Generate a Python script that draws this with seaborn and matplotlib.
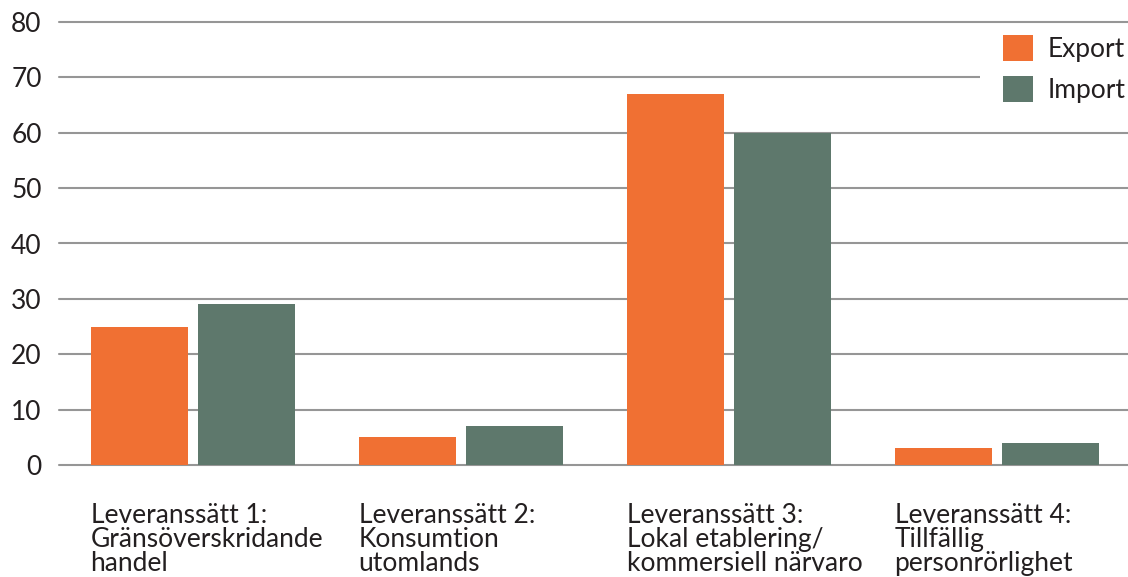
import matplotlib
matplotlib.use("Agg")
import matplotlib.pyplot as plt
from matplotlib.patches import Rectangle
from matplotlib.transforms import blended_transform_factory
import pandas as pd
import seaborn as sns

# Data
kategorier = [
    "Leveranssätt 1:\nGränsöverskridande\nhandel",
    "Leveranssätt 2:\nKonsumtion\nutomlands",
    "Leveranssätt 3:\nLokal etablering/\nkommersiell närvaro",
    "Leveranssätt 4:\nTillfällig\npersonrörlighet",
]
export_varden = [25, 5, 67, 3]
import_varden = [29, 7, 60, 4]
serier = ["Export", "Import"]
y_ticks = [0, 10, 20, 30, 40, 50, 60, 70, 80]

ORANGE = "#F07033"
GRON = "#5E786C"
TEXT = "#231F20"
GRID = "#969696"

df = pd.DataFrame({
    "kategori": list(range(len(kategorier))) * 2,
    "flöde": [serier[0]] * len(kategorier) + [serier[1]] * len(kategorier),
    "värde": export_varden + import_varden,
})

sns.set_theme(style="white")
plt.rcParams["font.family"] = ["Lato", "DejaVu Sans"]
FS = 19

W, H = 1128, 577
fig = plt.figure(figsize=(W / 100, H / 100), dpi=100)
ax = fig.add_axes([59 / W, 112 / H, 1072 / W, 443 / H])

sns.barplot(
    data=df, x="kategori", y="värde", hue="flöde",
    palette=[ORANGE, GRON], saturation=1, width=0.8, gap=0.09,
    linewidth=0, edgecolor="none",
    ax=ax, legend=True, zorder=3,
)

ax.set_xlim(-0.5, len(kategorier) - 0.5)
ax.set_ylim(0, 80)
ax.set_yticks(y_ticks)
ax.set_yticklabels([str(v) for v in y_ticks], fontsize=FS, color=TEXT)
ax.tick_params(axis="y", length=0, pad=12.5)
ax.set_xticks(range(len(kategorier)))
ax.set_xticklabels([""] * len(kategorier))
ax.tick_params(axis="x", length=0)
ax.set_xlabel("")
ax.set_ylabel("")
for s in ax.spines.values():
    s.set_visible(False)

ax.set_axisbelow(True)
ax.yaxis.grid(True, color=GRID, linewidth=1.5)
ax.xaxis.grid(False)
for gl in ax.get_ygridlines():
    gl.set_clip_on(False)

# white backing behind the legend, hiding the grid line under it
ax.add_patch(Rectangle((980 / W, 1 - 30 / H), 1 - 980 / W, -92 / H,
                       transform=fig.transFigure, facecolor="white",
                       edgecolor="none", zorder=1))

# category labels, left-aligned with the first bar of each group
trans = blended_transform_factory(ax.transData, ax.transAxes)
for i, lab in enumerate(kategorier):
    ax.text(i - 0.382, -0.086, lab, transform=trans, ha="left", va="top",
            fontsize=FS, color=TEXT, linespacing=0.96)

handles, labels = ax.get_legend_handles_labels()
ax.legend(handles, labels, loc="upper left",
          bbox_to_anchor=(1003 / W, 1 - 35 / H), bbox_transform=fig.transFigure,
          frameon=False, fontsize=FS, handlelength=1.14, handleheight=1.14,
          handletextpad=0.55, labelspacing=0.55, borderpad=0, borderaxespad=0,
          labelcolor=TEXT)

fig.savefig("out.png", dpi=100, facecolor="white")
